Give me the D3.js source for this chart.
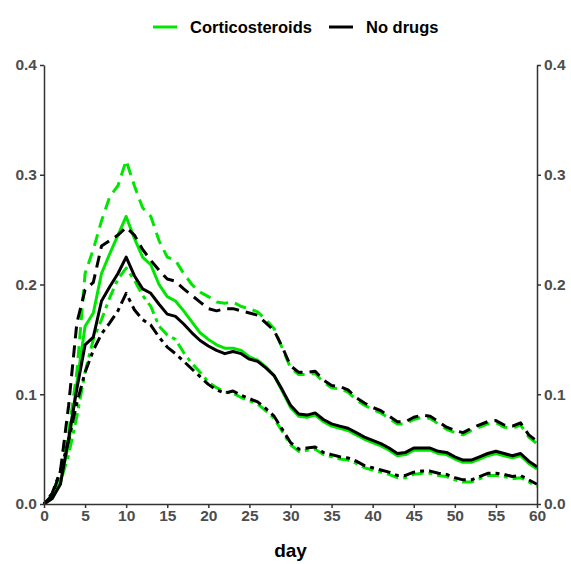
<!DOCTYPE html>
<html lang="en">
<head>
<meta charset="UTF-8">
<title>day</title>
<style>
body{margin:0;background:#fff}
text{font-family:"Liberation Sans",Arial,sans-serif}
</style>
</head>
<body>
<svg id="chart" width="571" height="564"></svg>
<script src="https://cdn.jsdelivr.net/npm/d3@7"></script>
<script>
var days=d3.range(0,61)
var noDrugsMean=[0,0.005,0.018,0.06,0.105,0.145,0.152,0.185,0.198,0.21,0.225,0.208,0.196,0.192,0.182,0.173,0.171,0.164,0.156,0.149,0.144,0.14,0.137,0.139,0.137,0.132,0.13,0.124,0.117,0.104,0.09,0.082,0.081,0.083,0.077,0.073,0.071,0.069,0.065,0.061,0.058,0.055,0.051,0.046,0.047,0.051,0.051,0.051,0.048,0.047,0.043,0.04,0.04,0.043,0.046,0.048,0.046,0.044,0.046,0.039,0.034]
var noDrugsUpper=[0,0.008,0.03,0.09,0.165,0.195,0.202,0.235,0.24,0.245,0.252,0.245,0.232,0.222,0.213,0.205,0.203,0.196,0.19,0.184,0.178,0.176,0.178,0.178,0.176,0.174,0.172,0.165,0.158,0.143,0.126,0.12,0.12,0.121,0.113,0.108,0.107,0.104,0.097,0.092,0.088,0.085,0.08,0.075,0.075,0.079,0.081,0.08,0.075,0.07,0.067,0.065,0.069,0.072,0.075,0.076,0.072,0.071,0.074,0.063,0.057]
var noDrugsLower=[0,0.01,0.03,0.058,0.092,0.12,0.14,0.155,0.165,0.176,0.192,0.177,0.168,0.163,0.152,0.143,0.137,0.13,0.123,0.116,0.109,0.104,0.101,0.103,0.099,0.096,0.093,0.087,0.08,0.068,0.056,0.05,0.051,0.052,0.047,0.045,0.043,0.042,0.039,0.035,0.033,0.031,0.029,0.026,0.026,0.029,0.03,0.03,0.028,0.027,0.024,0.022,0.022,0.025,0.028,0.028,0.027,0.025,0.026,0.022,0.018]
var cortMean=[0,0.005,0.02,0.055,0.11,0.162,0.174,0.21,0.228,0.245,0.262,0.242,0.225,0.218,0.2,0.189,0.185,0.176,0.166,0.156,0.15,0.145,0.142,0.142,0.14,0.134,0.131,0.125,0.117,0.103,0.088,0.08,0.079,0.081,0.075,0.071,0.069,0.067,0.063,0.059,0.056,0.053,0.049,0.044,0.045,0.049,0.049,0.049,0.046,0.045,0.041,0.038,0.038,0.041,0.044,0.046,0.044,0.042,0.044,0.037,0.032]
var cortUpper=[0,0.008,0.03,0.065,0.12,0.21,0.232,0.258,0.28,0.29,0.313,0.29,0.27,0.262,0.24,0.225,0.222,0.21,0.2,0.193,0.189,0.184,0.183,0.184,0.18,0.178,0.175,0.168,0.16,0.142,0.124,0.118,0.118,0.119,0.111,0.106,0.105,0.102,0.095,0.09,0.086,0.083,0.078,0.073,0.073,0.077,0.079,0.078,0.073,0.068,0.065,0.063,0.067,0.07,0.073,0.074,0.07,0.069,0.072,0.061,0.055]
var cortLower=[0,0.006,0.02,0.045,0.08,0.12,0.15,0.168,0.188,0.205,0.215,0.204,0.19,0.18,0.162,0.154,0.15,0.138,0.128,0.12,0.111,0.106,0.102,0.101,0.097,0.094,0.091,0.085,0.078,0.066,0.054,0.048,0.049,0.05,0.045,0.043,0.041,0.04,0.037,0.033,0.031,0.029,0.027,0.024,0.024,0.027,0.028,0.028,0.026,0.025,0.022,0.02,0.02,0.023,0.026,0.026,0.025,0.023,0.024,0.02,0.016]
var xTicks=[0,5,10,15,20,25,30,35,40,45,50,55,60]
var yTicks=[0,0.1,0.2,0.3,0.4]
var groups=["Corticosteroids","No drugs"]
var colors={"Corticosteroids":"#00e600","No drugs":"#000000"}

var margin={top:65,right:34,bottom:60,left:44}
var width=571,height=564
var svg=d3.select('#chart')

var x=d3.scaleLinear().domain([0,60]).range([margin.left,width-margin.right])
var y=d3.scaleLinear().domain([0,0.4]).range([height-margin.bottom,margin.top])

var line=d3.line().x((d,i)=>x(days[i])).y(d=>y(d))

var series=[
  {g:"Corticosteroids",v:cortUpper,dash:"12,7"},
  {g:"Corticosteroids",v:cortLower,dash:"4,5,12,5"},
  {g:"Corticosteroids",v:cortMean,dash:null},
  {g:"No drugs",v:noDrugsUpper,dash:"12,7"},
  {g:"No drugs",v:noDrugsLower,dash:"4,5,12,5"},
  {g:"No drugs",v:noDrugsMean,dash:null}
]
svg.append('g').selectAll('path').data(series).join('path')
  .attr('fill','none').attr('stroke',d=>colors[d.g]).attr('stroke-width',3)
  .attr('stroke-linejoin','round')
  .attr('stroke-dasharray',d=>d.dash)
  .attr('d',d=>line(d.v))

var axisColor='#333333',labelColor='#4d4d4d'
function style(g){
  g.select('.domain').attr('stroke',axisColor).attr('stroke-width',1.5)
  g.selectAll('.tick line').attr('stroke',axisColor).attr('stroke-width',1.5)
  g.selectAll('.tick text').attr('fill',labelColor).attr('font-size',15.5).attr('font-weight','bold')
    .attr('font-family','"Liberation Sans",Arial,sans-serif')
}
svg.append('g').attr('transform',`translate(0,${y(0)})`)
  .call(d3.axisBottom(x).tickValues(xTicks).tickSize(4).tickPadding(2).tickSizeOuter(0))
  .call(style)
svg.append('g').attr('transform',`translate(${x(0)},0)`)
  .call(d3.axisLeft(y).tickValues(yTicks).tickFormat(d3.format('.1f')).tickSize(4).tickPadding(3).tickSizeOuter(0))
  .call(style)
svg.append('g').attr('transform',`translate(${x(60)},0)`)
  .call(d3.axisRight(y).tickValues(yTicks).tickFormat(d3.format('.1f')).tickSize(4).tickPadding(3).tickSizeOuter(0))
  .call(style)

svg.append('text').attr('x',(x(0)+x(60))/2).attr('y',557).attr('text-anchor','middle')
  .attr('font-size',19).attr('font-weight','bold').attr('fill','#000').text('day')

// legend
var legendX=[153,329]
var leg=svg.append('g').selectAll('g').data(groups).join('g')
  .attr('transform',(d,i)=>`translate(${legendX[i]},27)`)
leg.append('line').attr('x1',0).attr('x2',24).attr('stroke',d=>colors[d]).attr('stroke-width',3)
leg.append('text').attr('x',37).attr('y',6).attr('font-size',16.5).attr('font-weight','bold').attr('fill','#000').text(d=>d)
</script>
</body>
</html>
